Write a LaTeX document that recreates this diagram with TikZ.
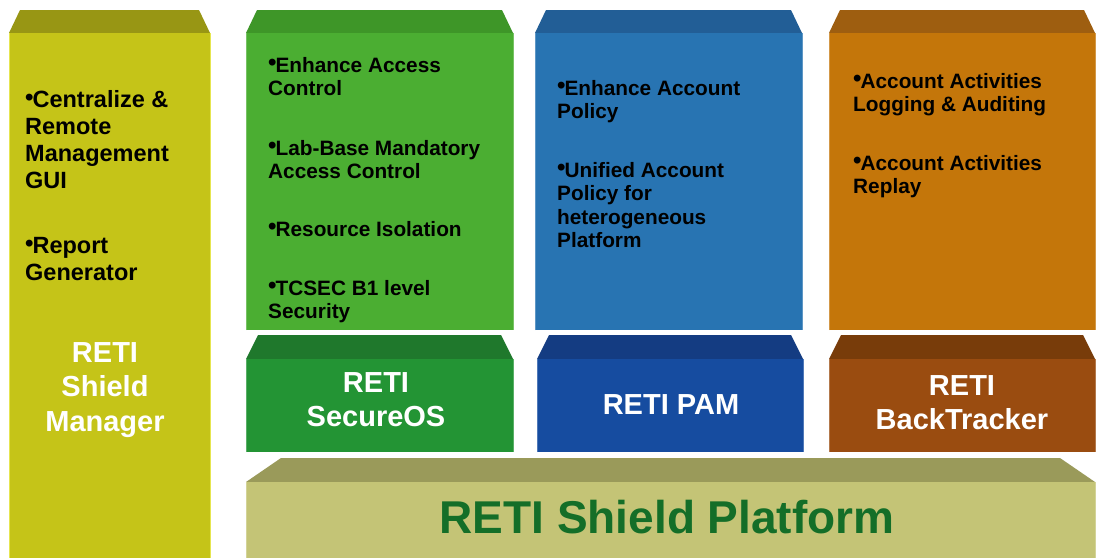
\documentclass[tikz,border=0pt]{standalone}
\usepackage{fontspec}
\setmainfont{Liberation Sans}
\definecolor{mgrBody}{HTML}{C5C418}
\definecolor{mgrBev}{HTML}{989614}
\definecolor{mgrEdge}{HTML}{E6E650}
\definecolor{grnBody}{HTML}{4BAE32}
\definecolor{grnBev}{HTML}{3E9628}
\definecolor{bluBody}{HTML}{2874B2}
\definecolor{bluBev}{HTML}{225E96}
\definecolor{orgBody}{HTML}{C4760A}
\definecolor{orgBev}{HTML}{9E5E10}
\definecolor{sosBody}{HTML}{239434}
\definecolor{sosBev}{HTML}{1F782C}
\definecolor{pamBody}{HTML}{164CA0}
\definecolor{pamBev}{HTML}{143C82}
\definecolor{btBody}{HTML}{9A4C10}
\definecolor{btBev}{HTML}{783C0A}
\definecolor{plfBody}{HTML}{C4C476}
\definecolor{plfBev}{HTML}{9A9A5A}
\definecolor{plfText}{HTML}{146E28}
\newcommand\bul{\raisebox{2pt}{\fontsize{24}{24}\selectfont\textbullet}\hspace{-1pt}}
\newcommand\lines[1]{\begin{tabular}[t]{@{}l@{}}#1\end{tabular}}
\newcommand\clines[1]{\begin{tabular}[t]{@{}c@{}}#1\end{tabular}}
\newcommand\bevbox[8]{%
  \fill[#6] (#1,#4) -- ({#1+#8},#3) -- ({#2-#8},#3) -- (#2,#4) -- cycle;
  \fill[#7] (#1,#4) rectangle (#2,#5);
  \draw[#7!75!white, line width=0.8pt] (#1,#5) -- (#1,#4) (#2,#4) -- (#2,#5);}
\tikzset{
  itemtxt/.style={anchor=base west, inner sep=0pt, font=\bfseries\fontsize{20.8}{23.5}\selectfont, text=black},
  mgrtxt/.style={anchor=base west, inner sep=0pt, font=\bfseries\fontsize{23.5}{27}\selectfont, text=black},
  titletxt/.style={anchor=base, inner sep=0pt, font=\bfseries\fontsize{29}{34.5}\selectfont, text=white},
}
\begin{document}
\begin{tikzpicture}[x=1pt,y=-1pt]
\useasboundingbox (0,0) rectangle (1100,557);
\fill[white] (0,0) rectangle (1100,557);
% boxes
\bevbox{9}{210}{10}{33}{560}{mgrBev}{mgrBody}{11}
\draw[mgrEdge, line width=1pt] (9,33) -- (9,560) (210,33) -- (210,560);
\bevbox{246}{513}{10}{33}{330}{grnBev}{grnBody}{11}
\bevbox{535}{802}{10}{33}{330}{bluBev}{bluBody}{11}
\bevbox{829}{1095}{10}{33}{330}{orgBev}{orgBody}{11}
\bevbox{246}{513}{335}{359}{452}{sosBev}{sosBody}{12}
\bevbox{537}{803}{335}{359}{452}{pamBev}{pamBody}{12}
\bevbox{829}{1095}{335}{359}{452}{btBev}{btBody}{12}
\bevbox{246}{1095}{458}{482}{560}{plfBev}{plfBody}{35}
% manager texts
\node[mgrtxt] (m1) at (25,107) {\lines{\bul Centralize \&\\Remote\\Management\\GUI}};
\node[mgrtxt] (m2) at (25,253) {\lines{\bul Report\\Generator}};
\node[titletxt] (mt) at (105,362) {\clines{RETI\\Shield\\Manager}};
% secureos texts
\node[itemtxt] (g1) at (268,72) {\lines{\bul Enhance Access\\Control}};
\node[itemtxt] (g2) at (268,155) {\lines{\bul Lab-Base Mandatory\\Access Control}};
\node[itemtxt] (g3) at (268,236) {\lines{\bul Resource Isolation}};
\node[itemtxt] (g4) at (268,295) {\lines{\bul TCSEC B1 level\\Security}};
% pam texts
\node[itemtxt] (b1) at (557,95) {\lines{\bul Enhance Account\\Policy}};
\node[itemtxt] (b2) at (557,177) {\lines{\bul Unified Account\\Policy for\\heterogeneous\\Platform}};
% backtracker texts
\node[itemtxt] (o1) at (853,88) {\lines{\bul Account Activities\\Logging \& Auditing}};
\node[itemtxt] (o2) at (853,170) {\lines{\bul Account Activities\\Replay}};
% titles
\node[titletxt] (st) at (376,392) {\clines{RETI\\SecureOS}};
\node[titletxt] (pt) at (671,414) {RETI PAM};
\node[titletxt] (bt) at (962,395) {\clines{RETI\\BackTracker}};
\node[anchor=base, inner sep=0pt, font=\bfseries\fontsize{46}{50}\selectfont, text=plfText] (pl) at (667,533) {RETI Shield Platform};
\end{tikzpicture}
\end{document}
